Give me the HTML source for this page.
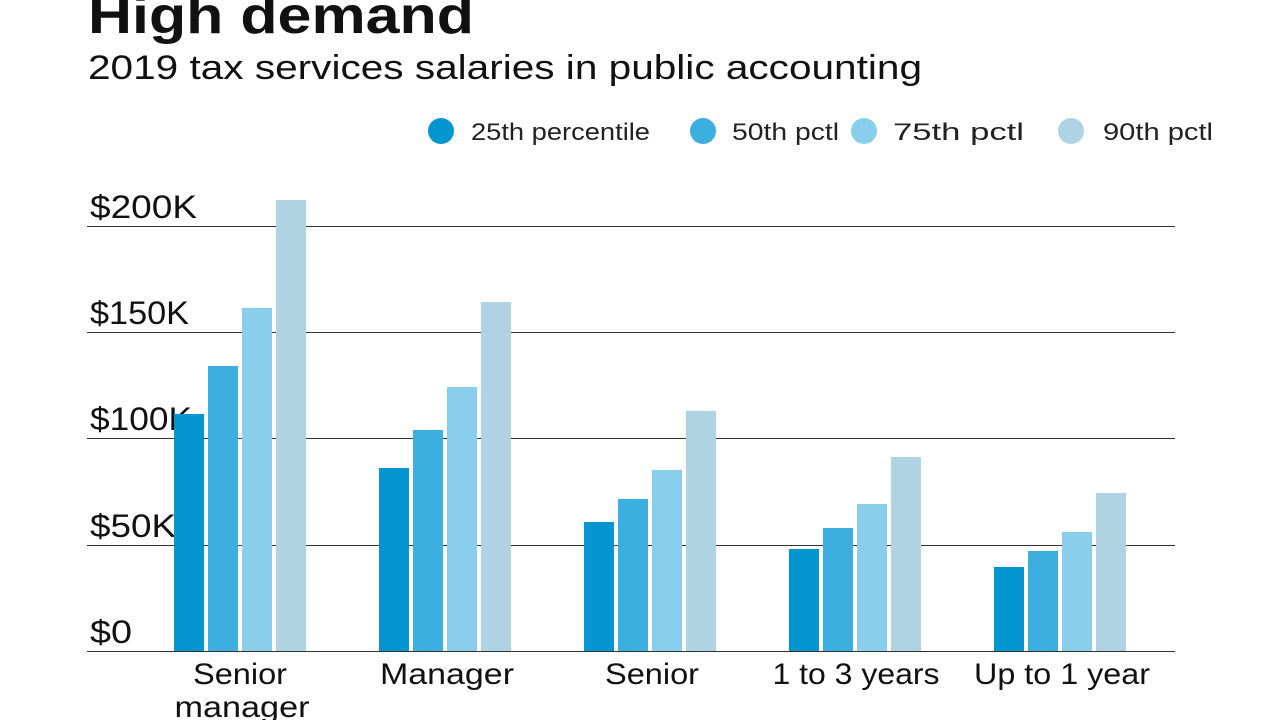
<!DOCTYPE html>
<html><head><meta charset="utf-8"><style>
body{margin:0;background:#fff;width:1280px;height:720px;overflow:hidden;font-family:"Liberation Sans",sans-serif}
</style></head><body>
<svg width="1280" height="720" xmlns="http://www.w3.org/2000/svg" font-family="Liberation Sans, sans-serif">
<text x="88" y="33" font-size="52" font-weight="bold" fill="#111" textLength="386" lengthAdjust="spacingAndGlyphs">High demand</text>
<text x="88" y="79" font-size="34" fill="#111" textLength="834" lengthAdjust="spacingAndGlyphs">2019 tax services salaries in public accounting</text>
<g font-size="24" fill="#222">
<circle cx="441" cy="131" r="13" fill="#0596d2"/><text x="471" y="140" textLength="179" lengthAdjust="spacingAndGlyphs">25th percentile</text>
<circle cx="703" cy="131" r="13" fill="#3daee0"/><text x="732" y="140" textLength="107" lengthAdjust="spacingAndGlyphs">50th pctl</text>
<circle cx="864" cy="131" r="13" fill="#89cfec"/><text x="893" y="140" textLength="131" lengthAdjust="spacingAndGlyphs">75th pctl</text>
<circle cx="1071" cy="131" r="13" fill="#b0d3e3"/><text x="1103" y="140" textLength="110" lengthAdjust="spacingAndGlyphs">90th pctl</text>
</g>
<g font-size="32" fill="#111">
<text x="90" y="218" textLength="107" lengthAdjust="spacingAndGlyphs">$200K</text><text x="90" y="324" textLength="99" lengthAdjust="spacingAndGlyphs">$150K</text><text x="90" y="430" textLength="102" lengthAdjust="spacingAndGlyphs">$100K</text><text x="90" y="537" textLength="86" lengthAdjust="spacingAndGlyphs">$50K</text><text x="90" y="643" textLength="42" lengthAdjust="spacingAndGlyphs">$0</text>
</g>
<g stroke="#333" stroke-width="1">
<line x1="87" x2="1175" y1="226.5" y2="226.5"/><line x1="87" x2="1175" y1="332.5" y2="332.5"/><line x1="87" x2="1175" y1="438.5" y2="438.5"/><line x1="87" x2="1175" y1="545.5" y2="545.5"/><line x1="87" x2="1175" y1="651.5" y2="651.5"/>
</g>
<g>
<rect x="174" y="414" width="30" height="237" fill="#0596d2"/><rect x="208" y="366" width="30" height="285" fill="#3daee0"/><rect x="242" y="308" width="30" height="343" fill="#89cfec"/><rect x="276" y="200" width="30" height="451" fill="#b0d3e3"/>
<rect x="379" y="468" width="30" height="183" fill="#0596d2"/><rect x="413" y="430" width="30" height="221" fill="#3daee0"/><rect x="447" y="387" width="30" height="264" fill="#89cfec"/><rect x="481" y="302" width="30" height="349" fill="#b0d3e3"/>
<rect x="584" y="522" width="30" height="129" fill="#0596d2"/><rect x="618" y="499" width="30" height="152" fill="#3daee0"/><rect x="652" y="470" width="30" height="181" fill="#89cfec"/><rect x="686" y="411" width="30" height="240" fill="#b0d3e3"/>
<rect x="789" y="549" width="30" height="102" fill="#0596d2"/><rect x="823" y="528" width="30" height="123" fill="#3daee0"/><rect x="857" y="504" width="30" height="147" fill="#89cfec"/><rect x="891" y="457" width="30" height="194" fill="#b0d3e3"/>
<rect x="994" y="567" width="30" height="84" fill="#0596d2"/><rect x="1028" y="551" width="30" height="100" fill="#3daee0"/><rect x="1062" y="532" width="30" height="119" fill="#89cfec"/><rect x="1096" y="493" width="30" height="158" fill="#b0d3e3"/>
</g>
<g font-size="30" fill="#111" text-anchor="middle">
<text x="240" y="684" textLength="94" lengthAdjust="spacingAndGlyphs">Senior</text><text x="242" y="717" textLength="135" lengthAdjust="spacingAndGlyphs">manager</text>
<text x="447" y="684" textLength="134" lengthAdjust="spacingAndGlyphs">Manager</text><text x="652" y="684" textLength="94" lengthAdjust="spacingAndGlyphs">Senior</text><text x="856" y="684" textLength="167" lengthAdjust="spacingAndGlyphs">1 to 3 years</text><text x="1062" y="684" textLength="176" lengthAdjust="spacingAndGlyphs">Up to 1 year</text>
</g>
</svg>
</body></html>
